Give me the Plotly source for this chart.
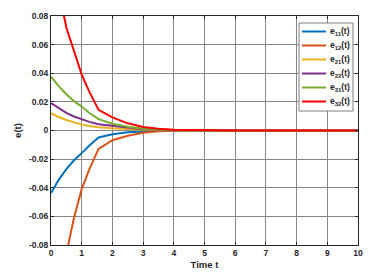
import plotly.graph_objects as go

t = [0, 0.25, 0.5, 0.75, 1.0, 1.25, 1.55, 2.0, 2.5, 3.0, 3.5, 4.0, 5.0, 6.0, 7.0, 8.0, 9.0, 10.0]
e11 = [-0.0436, -0.0345, -0.027, -0.0208, -0.0158, -0.0105, -0.0049, -0.0027, -0.0013, -0.0006, -0.0003, -0.0001, 0, 0, 0, 0, 0, 0]
e12 = [-0.16, -0.12, -0.086, -0.061, -0.041, -0.027, -0.0128, -0.0068, -0.0037, -0.0015, -0.0006, -0.0002, 0, 0, 0, 0, 0, 0]
e21 = [0.0121, 0.0094, 0.0073, 0.0055, 0.0041, 0.0031, 0.0022, 0.0015, 0.0009, 0.0005, 0.0003, 0.0001, 0, 0, 0, 0, 0, 0]
e22 = [0.0191, 0.0154, 0.0123, 0.0098, 0.0079, 0.0060, 0.0044, 0.0032, 0.0018, 0.0009, 0.0004, 0.0002, 0, 0, 0, 0, 0, 0]
e31 = [0.0376, 0.031, 0.0253, 0.0205, 0.0167, 0.0122, 0.0079, 0.0047, 0.0026, 0.0013, 0.0006, 0.0003, 0, 0, 0, 0, 0, 0]
e32 = [0.13, 0.098, 0.072, 0.055, 0.039, 0.027, 0.0144, 0.0092, 0.005, 0.0025, 0.0012, 0.0005, 0.0001, 0, 0, 0, 0, 0]

names = ["e<sub>11</sub>(t)", "e<sub>12</sub>(t)", "e<sub>21</sub>(t)",
         "e<sub>22</sub>(t)", "e<sub>31</sub>(t)", "e<sub>32</sub>(t)"]
series = [e11, e12, e21, e22, e31, e32]
colors = ["#0072BD", "#D95319", "#EDB120", "#7E2F8E", "#77AC30", "#FF0000"]

xticks = [0, 1, 2, 3, 4, 5, 6, 7, 8, 9, 10]
yticks = [-0.08, -0.06, -0.04, -0.02, 0, 0.02, 0.04, 0.06, 0.08]
yticktext = ["-0.08", "-0.06", "-0.04", "-0.02", "0", "0.02", "0.04", "0.06", "0.08"]

# page has an 8px body margin; figure is sized to fit inside the window
OFF = 8
W, H = 360, 262
ML, MR, MT, MB = 43, 10, 8, 25
PW, PH = W - ML - MR, H - MT - MB

def px_x(p):
    return (p - OFF - ML) / PW

def px_y(p):
    return (H - MB - (p - OFF)) / PH

fig = go.Figure()
for name, ys, c in zip(names, series, colors):
    fig.add_trace(go.Scatter(x=t, y=ys, mode="lines", name=name,
                             line=dict(color=c, width=2), showlegend=False))

# compact MATLAB-style legend
shapes = [dict(type="rect", xref="paper", yref="paper",
               x0=px_x(299), x1=px_x(353), y0=px_y(111), y1=px_y(23),
               fillcolor="white", line=dict(color="#7f7f7f", width=1), layer="above")]
annotations = []
for i, (name, c) in enumerate(zip(names, colors)):
    yc = 31.5 + i * 14.0
    shapes.append(dict(type="line", xref="paper", yref="paper",
                       x0=px_x(302), x1=px_x(326), y0=px_y(yc), y1=px_y(yc),
                       line=dict(color=c, width=2), layer="above"))
    annotations.append(dict(xref="paper", yref="paper", x=px_x(327.5), y=px_y(yc),
                            xanchor="left", yanchor="middle", showarrow=False,
                            text="<b>" + name + "</b>",
                            font=dict(family="Liberation Sans, Arial, sans-serif", size=8.5, color="#262626")))

tickfont = dict(family="Liberation Sans, Arial, sans-serif", size=8.5, color="#262626", weight="bold")
fig.update_layout(
    width=W, height=H,
    margin=dict(l=ML, r=MR, t=MT, b=MB),
    paper_bgcolor="white", plot_bgcolor="white",
    font=dict(family="Liberation Sans, Arial, sans-serif", size=8, color="#262626"),
    showlegend=False,
    shapes=shapes,
    annotations=annotations,
    xaxis=dict(range=[0, 10], tickvals=xticks, showgrid=True, gridcolor="#858585", gridwidth=1,
               zeroline=False, showline=True, linecolor="#262626", linewidth=1, mirror="allticks",
               ticks="inside", ticklen=3, tickcolor="#262626", automargin=False,
               tickfont=tickfont,
               title=dict(text="<b>Time t</b>", font=dict(size=9.5, color="#262626"), standoff=6)),
    yaxis=dict(range=[-0.08, 0.08], tickvals=yticks, ticktext=yticktext, showgrid=True,
               gridcolor="#858585", gridwidth=1, automargin=False,
               zeroline=False, showline=True, linecolor="#262626", linewidth=1, mirror="allticks",
               ticks="inside", ticklen=3, tickcolor="#262626",
               tickfont=tickfont,
               title=dict(text="<b>e(t)</b>", font=dict(size=9.5, color="#262626"), standoff=5)),
)

fig.write_html("out.html")
